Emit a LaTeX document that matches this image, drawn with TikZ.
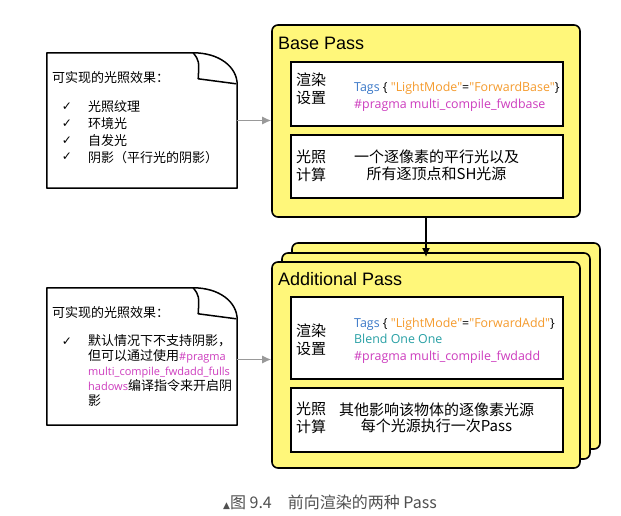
\documentclass[tikz,border=0pt]{standalone}
\usepackage{fontspec}
\setmainfont{Liberation Sans}
\newfontfamily\cjk{Noto Sans CJK SC}
\newfontfamily\symb{DejaVu Sans}
\newfontfamily\code{Open Sans}
\usepackage{tikz}
\usetikzlibrary{arrows.meta,positioning,calc}
\definecolor{passyellow}{RGB}{255,247,122}
\definecolor{tagblue}{RGB}{58,120,200}
\definecolor{tagorange}{RGB}{245,155,45}
\definecolor{blendteal}{RGB}{40,160,165}
\definecolor{pragmapink}{RGB}{205,60,190}
\definecolor{captiongray}{RGB}{80,80,80}
\tikzset{
  pass-box/.style={draw=black, fill=passyellow, rounded corners=6pt, line width=1.6pt,
    minimum width=308pt, inner sep=0pt},
  pass-part/.style={draw=black, fill=white, line width=1.4pt, minimum width=272pt, inner sep=0pt},
  pass-title/.style={font=\fontsize{18}{20}\selectfont, anchor=west, inner sep=0pt},
  cn-label/.style={font=\cjk\fontsize{15}{18}\selectfont, align=left, anchor=west, inner sep=0pt},
  cn-text/.style={font=\cjk\fontsize{15}{16.5}\selectfont, align=center, inner sep=0pt},
  code-line/.style={font=\code\fontsize{12.4}{16.5}\selectfont, align=left, anchor=west, inner sep=0pt},
  note-box/.style={inner sep=0pt},
  note-line/.style={draw=black, fill=white, line width=1.5pt, line join=round},
  note-text/.style={font=\cjk\fontsize{13}{15.2}\selectfont, anchor=west, inner sep=0pt},
  note-tick/.style={font=\symb\bfseries\fontsize{12}{14}\selectfont, inner sep=0pt},
  feed-arrow/.style={-{Latex[length=9pt,width=8pt]}, draw=black!40, fill=black!40, line width=1.3pt}
}
\newcommand{\notecode}[1]{\textcolor{pragmapink}{\code\fontsize{11}{15}\selectfont #1}}

\begin{document}
\begin{tikzpicture}[x=1pt, y=-1pt]
  \fill[white] (0,0) rectangle (621,516);
  \useasboundingbox (0,0) rectangle (621,516);

  % notes on the left
  \node[note-box, minimum width=190pt, minimum height=135pt] (effA) at (142,120.5) {};
  \node[note-box, minimum width=190pt, minimum height=137pt] (effB) at (142,356.5) {};
  \foreach \n in {effA,effB} {
    \draw[note-line] (\n.south west) -- (\n.north west) -- ($(\n.north east)+(-44,0)$)
      .. controls ($(\n.north east)+(-18,0)$) and ($(\n.north east)+(0,14)$) .. ($(\n.north east)+(0,32)$)
      -- (\n.south east) -- cycle;
    \draw[note-line, fill=none] ($(\n.north east)+(-44,0)$) .. controls ($(\n.north east)+(-38,8)$) .. ($(\n.north east)+(-39,26)$)
      -- ($(\n.north east)+(-1,31)$);
  }
  \node[note-text] (effAtitle) at (52,78) {可实现的光照效果：};
  \foreach \txt [count=\i] in {光照纹理, 环境光, 自发光, 阴影（平行光的阴影）} {
    \node[note-tick] (effAck\i) at (67,90.3+16.7*\i) {✓};
    \node[note-text] (effAit\i) at (88,90.3+16.7*\i) {\txt};
  }
  \node[note-text] (effBtitle) at (52,313) {可实现的光照效果：};
  \node[note-tick] (effBck) at (67,342) {✓};
  \node[note-text, anchor=north west, align=left] (effBit) at (88,334)
    {默认情况下不支持阴影，\\
     但可以通过使用\notecode{\#pragma}\\
     \notecode{multi\_compile\_fwdadd\_fulls}\\
     \notecode{hadows}编译指令来开启阴\\
     影};

  % base pass
  \node[pass-box, minimum height=192pt] (base) at (426,121) {};
  \node[pass-title] (basetitle) at (278,43) {Base Pass};
  \node[pass-part, minimum height=64pt] (basecfg) at (427,94) {};
  \node[pass-part, minimum height=63pt] (baselit) at (427,166.5) {};
  \node[cn-label] (basecfgl) at (296,89) {渲染\\设置};
  \node[code-line] (basecode) at (354,97)
    {\textcolor{tagblue}{Tags} \{ \textcolor{tagorange}{"LightMode"}=\textcolor{tagorange}{"ForwardBase"}\}\\
     \textcolor{pragmapink}{\#pragma multi\_compile\_fwdbase}};
  \node[cn-label] (baselitl) at (296,166) {光照\\计算};
  \node[cn-text] (baselitt) at (436.5,165.5) {一个逐像素的平行光以及\\所有逐顶点和SH光源};

  % additional pass (stacked)
  \node[pass-box, minimum height=206pt] (addback) at (446,346) {};
  \node[pass-box, minimum height=206pt] (addmid) at (436,356) {};
  \node[pass-box, minimum height=206pt] (addfront) at (426,365) {};
  \node[pass-title] (addtitle) at (278,279) {Additional Pass};
  \node[pass-part, minimum height=82pt] (addcfg) at (427,338) {};
  \node[pass-part, minimum height=64pt] (addlit) at (427,420) {};
  \node[cn-label] (addcfgl) at (296,340) {渲染\\设置};
  \node[code-line] (addcode) at (354,340.5)
    {\textcolor{tagblue}{Tags} \{ \textcolor{tagorange}{"LightMode"}=\textcolor{tagorange}{"ForwardAdd"}\}\\
     \textcolor{blendteal}{Blend One One}\\
     \textcolor{pragmapink}{\#pragma multi\_compile\_fwdadd}};
  \node[cn-label] (addlitl) at (296,418) {光照\\计算};
  \node[cn-text] (addlitt) at (436.5,418) {其他影响该物体的逐像素光源\\每个光源执行一次Pass};

  % connectors
  \coordinate (addentry) at ($(base.south |- addmid.north)+(0,5)$);
  \draw[-{Latex[length=9pt,width=8pt]}, line width=2pt] (base.south) -- (addentry);
  \draw[feed-arrow] (effA.east) -- (effA.east -| base.west);
  \draw[feed-arrow] ($(effB.east)+(0,3)$) -- ($(effB.east -| addfront.west)+(0,3)$);

  % caption
  \node[font=\cjk\fontsize{16}{18}\selectfont, text=captiongray, inner sep=0pt] (caption) at (330,502)
    {{\symb\fontsize{9}{10}\selectfont ▲}图 9.4\quad 前向渲染的两种 Pass};
\end{tikzpicture}
\end{document}
